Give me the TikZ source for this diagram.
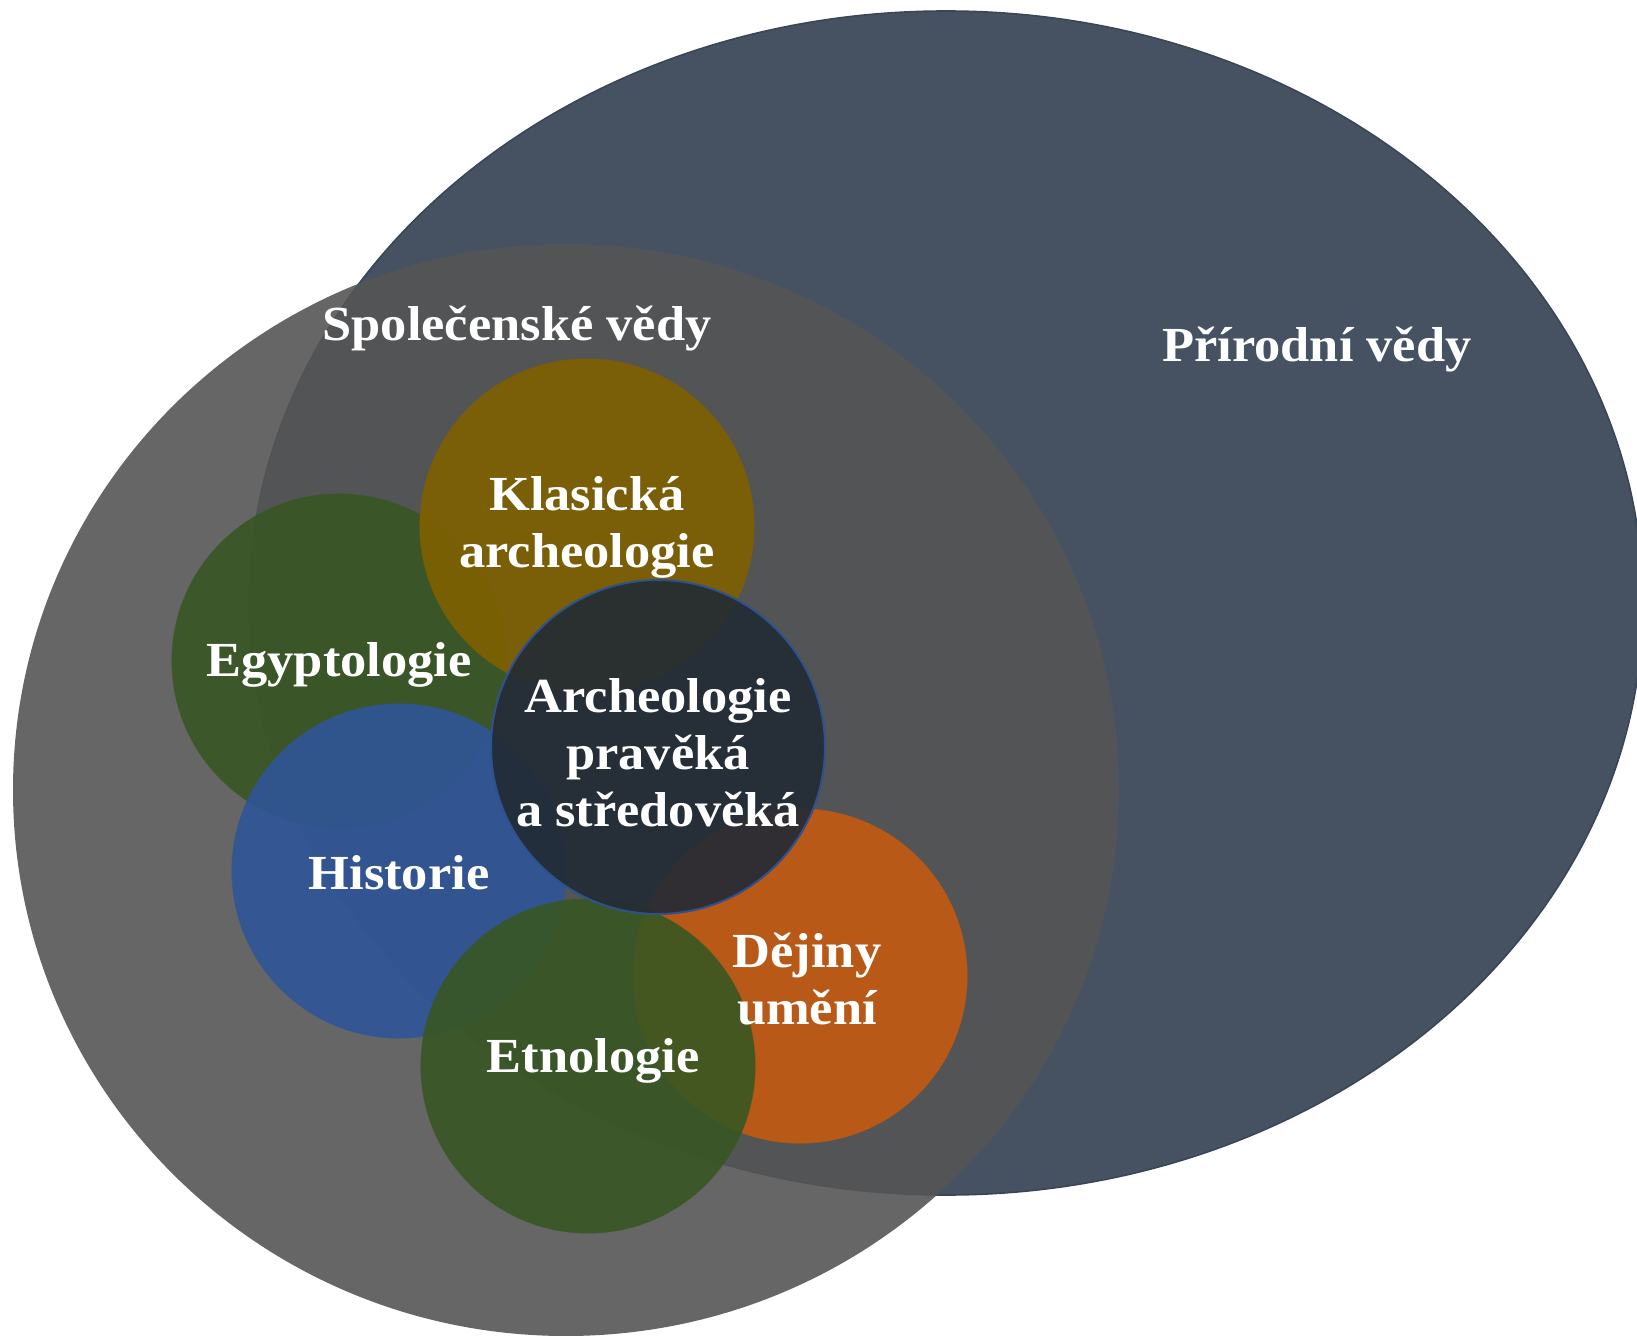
\documentclass[tikz,border=0pt]{standalone}
\usepackage{fontspec}
\setmainfont[FakeStretch=1.07]{Liberation Serif}
\usepackage{tikz}

\definecolor{natfill}{HTML}{465262}
\definecolor{natedge}{HTML}{3A4556}
\definecolor{socfill}{HTML}{555555}
\definecolor{klasgold}{HTML}{7F6000}
\definecolor{egygreen}{HTML}{385723}
\definecolor{histblue}{HTML}{2F5597}
\definecolor{artorange}{HTML}{C55A11}
\definecolor{archnavy}{HTML}{222A35}
\definecolor{archedge}{HTML}{2F528F}

\tikzset{
  disc/.style={circle, minimum size=167pt, inner sep=0pt, fill opacity=0.9, draw opacity=0.6, line width=0.6pt},
  lbl/.style={text=white, align=center, font=\bfseries\fontsize{24.5}{28.5}\selectfont, inner sep=0pt}
}

\begin{document}
\begin{tikzpicture}[x=0.5pt,y=0.5pt,yscale=-1,xscale=1]
\useasboundingbox (0,0) rectangle (1637,1336);
\clip (0,0) rectangle (1637,1336);

%Shape: Ellipse [natural sciences]
\draw [color=natedge, fill=natfill, line width=0.8pt] (946,603) ellipse [x radius=348.5pt, y radius=296pt];
%Shape: Ellipse [social sciences]
\fill [socfill, fill opacity=0.9] (566,790) ellipse [x radius=276.5pt, y radius=273pt];

%Shape: Circles
\node [disc, fill=egygreen, draw=egygreen] (egypt) at (339,661) {};
\node [disc, fill=klasgold, draw=klasgold] (klas) at (587,526) {};
\node [disc, fill=histblue, draw=histblue] (hist) at (399,871) {};
\node [disc, fill=artorange, draw=artorange] (umeni) at (800,976) {};
\node [disc, fill=egygreen, draw=egygreen] (etno) at (588,1066) {};
\node [disc, fill=archnavy, draw=archedge, draw opacity=1, line width=1pt] (arch) at (658,747) {};

%Text labels
\node [lbl] (soc-t) at (517,329) {Společenské vědy};
\node [lbl] (nat-t) at (1317,350) {Přírodní vědy};
\node [lbl] (klas-t) at (587,527) {Klasická\\archeologie};
\node [lbl] (egypt-t) at (339,665) {Egyptologie};
\node [lbl] (arch-t) at (658,753) {Archeologie\\pravěká\\a středověká};
\node [lbl] (hist-t) at (399,873) {Historie};
\node [lbl] (umeni-t) at (807,979) {Dějiny\\umění};
\node [lbl] (etno-t) at (593,1061) {Etnologie};
\end{tikzpicture}
\end{document}
